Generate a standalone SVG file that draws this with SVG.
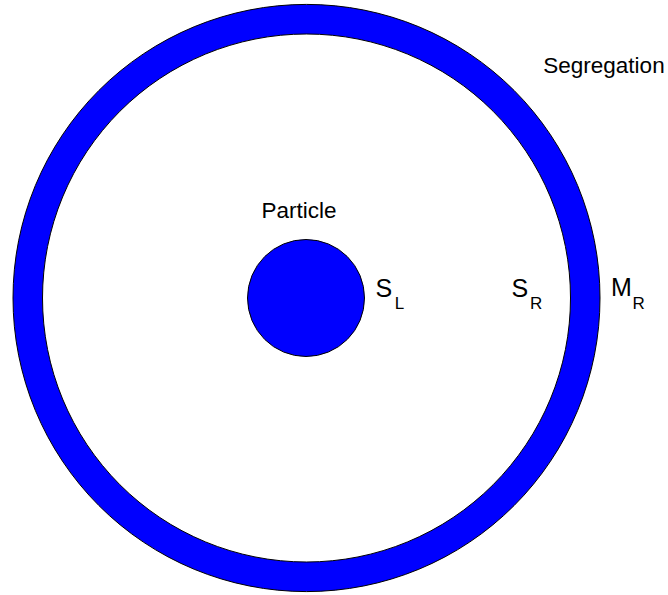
<svg xmlns="http://www.w3.org/2000/svg" width="668" height="595" viewBox="0 0 668 595">
<style>
.shape{fill:#0000ff;stroke:#000;stroke-width:1}
.t{font-family:"Liberation Sans",Arial,sans-serif;fill:#000}
.big{font-size:25px}
.sub{font-size:17px}
.lbl{font-size:22.5px}
</style>
<rect width="668" height="595" fill="#fff"/>
<g id="segregation-ring">
<path class="shape" fill-rule="evenodd" d="M 13 298 A 293.5 293.5 0 1 0 600 298 A 293.5 293.5 0 1 0 13 298 Z M 42.5 298 A 264 264 0 1 1 570.5 298 A 264 264 0 1 1 42.5 298 Z"/>
</g>
<g id="particle">
<circle class="shape" cx="306" cy="298" r="58.5"/>
</g>
<g id="labels">
<text class="t lbl" x="261.6" y="217.7">Particle</text>
<text class="t lbl" x="543.3" y="73">Segregation</text>
<text class="t big" x="375.5" y="296.5">S</text>
<text class="t sub" x="394.8" y="309.3">L</text>
<text class="t big" x="511.5" y="296.5">S</text>
<text class="t sub" x="530" y="309.3">R</text>
<text class="t big" x="611" y="296">M</text>
<text class="t sub" x="632.6" y="309.3">R</text>
</g>
</svg>
